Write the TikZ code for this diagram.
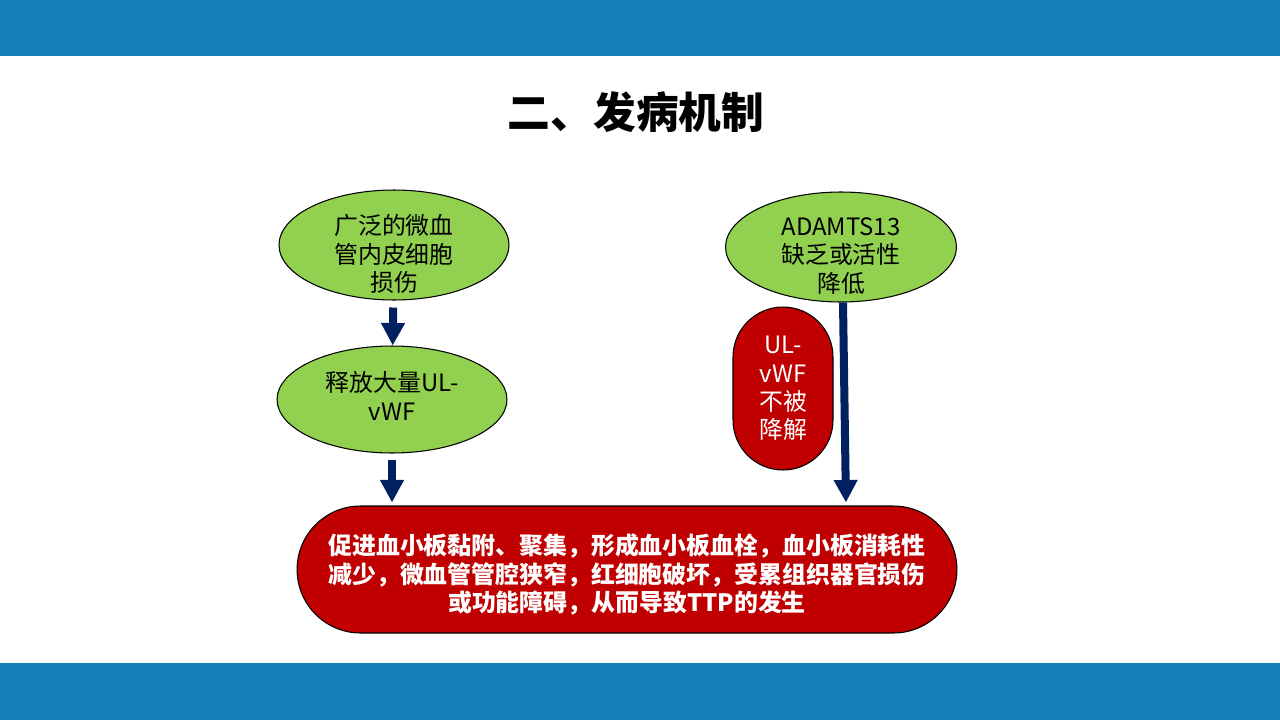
\documentclass[tikz,border=0pt]{standalone}
\usepackage{fontspec}
\setmainfont{Noto Sans CJK SC}
\usepackage{tikz}
\usetikzlibrary{calc,arrows.meta,shapes.geometric}
\definecolor{bar1}{RGB}{19,128,187}
\definecolor{green1}{RGB}{146,208,80}
\definecolor{red1}{RGB}{192,0,0}
\definecolor{navy1}{RGB}{0,32,96}
\tikzstyle{mech}=[
  x=0.02cm, y=-0.02cm, font=\fontsize{13.6}{16.2}\selectfont
]
\tikzstyle{mechnode}=[
  draw=black, line width=0.6pt, inner sep=0pt, align=center
]
\tikzstyle{mechtext}=[
  align=center, inner sep=0pt
]
\tikzstyle{mechell}=[
  mechnode, ellipse, fill=green1, minimum width=4.6cm, minimum height=2.2cm
]
\tikzstyle{mechpill}=[
  mechnode, rectangle, fill=red1, text=white, rounded corners=1cm,
  minimum width=2cm, minimum height=3.26cm
]
\tikzstyle{mechres}=[
  mechpill, rounded corners=1.27cm, minimum width=13.2cm, minimum height=2.54cm
]
\tikzstyle{mechedge}=[
  draw=navy1, line width=0.16cm, -{Triangle[width=0.45cm,length=0.45cm]}
]
\begin{document}
\begin{tikzpicture}[mech]
    \useasboundingbox (0,0) rectangle (1280,720);
    \fill[bar1] (0,0) rectangle (1280,56);
    \fill[bar1] (0,663) rectangle (1280,720);

    \node (title) at (636,112) {\fontsize{24.3}{28}\selectfont\bfseries 二、发病机制};

    \node (damage) [mechell, label={[mechtext, yshift=-0.18cm]center:广泛的微血\\管内皮细胞\\损伤}] at (394,245) {};
    \node (release) [mechell, minimum height=2.14cm, label={[mechtext, yshift=0.07cm]center:释放大量UL-\\vWF}] at ($(damage) + (-2,154.5)$) {};
    \node (adamts) [mechell, minimum width=4.62cm, label={[mechtext, yshift=-0.18cm]center:ADAMTS13\\缺乏或活性\\降低}] at ($(damage) + (447,2)$) {};
    \node (undeg) [mechpill] at ($(adamts) + (-58,141.5)$) {
        UL-\\vWF\\不被\\降解
    };
    \node (result) [mechres, label={[mechtext, text=white, yshift=-0.1cm, font=\fontsize{13.6}{16.2}\selectfont\bfseries]center:%
        促进血小板黏附、聚集，形成血小板血栓，血小板消耗性\\
        减少，微血管管腔狭窄，红细胞破坏，受累组织器官损伤\\
        或功能障碍，从而导致TTP的发生}] at (627,569.5) {};

    \draw [mechedge, shorten <=0.14cm] (damage) -- (release);
    \draw [mechedge, shorten <=0.12cm, shorten >=0.06cm] (release.south) -- (release.south |- result.north);
    \draw [mechedge, shorten >=0.06cm] ([xshift=0.04cm]adamts.south) -- ($(adamts.south |- result.north) + (5,0)$);
\end{tikzpicture}
\end{document}
